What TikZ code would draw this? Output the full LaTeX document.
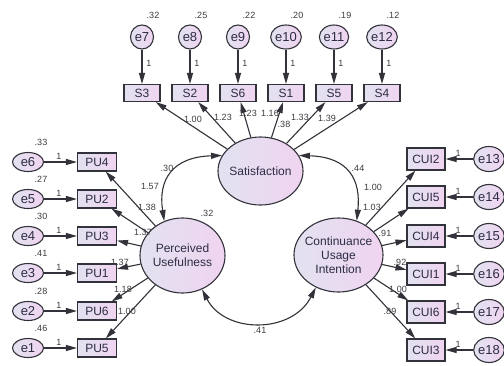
\documentclass[tikz,border=0pt]{standalone}
\usepackage{fontspec}
\setmainfont{Liberation Sans}
\usetikzlibrary{shapes.geometric,arrows.meta}
\definecolor{lavL}{RGB}{226,226,240}
\definecolor{lavR}{RGB}{240,212,240}
\definecolor{ink}{RGB}{50,50,58}
\definecolor{txt}{RGB}{44,44,68}
\definecolor{numc}{RGB}{60,60,66}
\tikzset{
  x=1pt, y=-1pt,
  shade/.style={left color=lavL, right color=lavR, draw=ink, line width=1.1pt},
  errT/.style={shade, ellipse, minimum width=23pt, minimum height=24pt, inner sep=0pt, font=\fontsize{13}{14}\selectfont, text=txt},
  errS/.style={shade, ellipse, minimum width=31pt, minimum height=19pt, inner sep=0pt, font=\fontsize{13}{14}\selectfont, text=txt},
  errR/.style={shade, ellipse, minimum width=29pt, minimum height=25pt, inner sep=0pt, font=\fontsize{13}{14}\selectfont, text=txt},
  obsT/.style={shade, rectangle, minimum width=36pt, minimum height=17pt, inner sep=0pt, font=\fontsize{12}{13}\selectfont, text=txt},
  obsL/.style={shade, rectangle, minimum width=39pt, minimum height=18pt, inner sep=0pt, font=\fontsize{12}{13}\selectfont, text=txt},
  obsR/.style={shade, rectangle, minimum width=38pt, minimum height=22pt, inner sep=0pt, font=\fontsize{12}{13}\selectfont, text=txt},
  lat/.style={shade, ellipse, inner sep=0pt},
  lattext/.style={align=center, font=\fontsize{12}{14}\selectfont, text=txt},
  num/.style={font=\fontsize{9}{10}\selectfont, text=numc, inner sep=0pt},
  arr/.style={draw=ink, line width=1.1pt, -{Triangle[length=11pt,width=6pt]}},
  arrboth/.style={draw=ink, line width=1.1pt, {Triangle[length=11pt,width=6pt]}-{Triangle[length=11pt,width=6pt]}}
}
\begin{document}
\begin{tikzpicture}
\fill[white] (0,0) rectangle (504,365);
\useasboundingbox (0,0) rectangle (504,365);

% latent variables
\node[lat, minimum width=85pt, minimum height=68pt] (Sat) at (260.5,171) {};
\node[lattext] (SatT) at (Sat) {Satisfaction};
\node[lat, minimum width=85pt, minimum height=75pt] (PU) at (182.5,255.5) {};
\node[lattext] (PUT) at (PU) {Perceived\\Usefulness};
\node[lat, minimum width=89pt, minimum height=74pt] (CUI) at (338.5,255) {};
\node[lattext] (CUIT) at (CUI) {Continuance\\Usage\\Intention};

% top indicators
\foreach \e/\s/\x/\v in {7/S3/142/.32, 8/S2/190/.25, 9/S6/238/.22, 10/S1/286/.20, 11/S5/334/.19, 12/S4/382/.12}{
  \node[errT] (e\e) at (\x,37) {e\e};
  \node[obsT] (\s) at (\x,93) {\s};
  \draw[arr] (e\e) -- (\s);
  \node[num] (one\e) at (\x+7,63) {1};
  \node[num] (v\e) at (\x+11,15) {\v};
  \draw[arr] (Sat) -- (\s);
}

% left indicators
\foreach \e/\b/\y/\v in {6/PU4/162/.33, 5/PU2/199/.27, 4/PU3/236/.30, 3/PU1/273/.41, 2/PU6/311/.28, 1/PU5/348/.46}{
  \node[errS] (e\e) at (28,\y) {e\e};
  \node[obsL] (\b) at (97,\y) {\b};
  \draw[arr] (e\e) -- (\b);
  \node[num] (one\e) at (59,\y-6) {1};
  \node[num] (v\e) at (41,\y-20) {\v};
  \draw[arr] (PU) -- (\b);
}

% right indicators
\foreach \e/\b/\y in {13/CUI2/159, 14/CUI5/197, 15/CUI4/236, 16/CUI1/274, 17/CUI6/312, 18/CUI3/350}{
  \node[errR] (e\e) at (489,\y) {e\e};
  \node[obsR] (\b) at (426,\y) {\b};
  \draw[arr] (e\e) -- (\b);
  \node[num] (one\e) at (458,\y-6) {1};
  \draw[arr] (CUI) -- (\b);
}

% covariances
\draw[arrboth] (PU.118) .. controls (158,180) and (172,157) .. (Sat.158);
\draw[arrboth] (Sat.22) .. controls (349,157) and (361,180) .. (CUI.62);
\draw[arrboth] (PU.-60) .. controls (225,334) and (292,334) .. (CUI.-125);

% loadings and estimates
\node[num] (l1) at (193,119) {1.00};
\node[num] (l2) at (223,117) {1.23};
\node[num] (l3) at (248,113) {1.23};
\node[num] (l4) at (270,113) {1.16};
\node[num] (l5) at (284,124) {.38};
\node[num] (l6) at (300,117) {1.33};
\node[num] (l7) at (327,118) {1.39};

\node[num] (p1) at (150,186) {1.57};
\node[num] (p2) at (147,207) {1.38};
\node[num] (p3) at (143,232) {1.37};
\node[num] (p4) at (120,262) {1.37};
\node[num] (p5) at (123,289) {1.18};
\node[num] (p6) at (127,311) {1.00};

\node[num] (c1) at (373,187) {1.00};
\node[num] (c2) at (372,207) {1.03};
\node[num] (c3) at (385,233) {.91};
\node[num] (c4) at (400,262) {.92};
\node[num] (c5) at (398,289) {1.00};
\node[num] (c6) at (390,311) {.89};

\node[num] (vPU) at (207,213) {.32};
\node[num] (cov1) at (167,168) {.30};
\node[num] (cov2) at (358,168) {.44};
\node[num] (cov3) at (260,330) {.41};
\end{tikzpicture}
\end{document}
